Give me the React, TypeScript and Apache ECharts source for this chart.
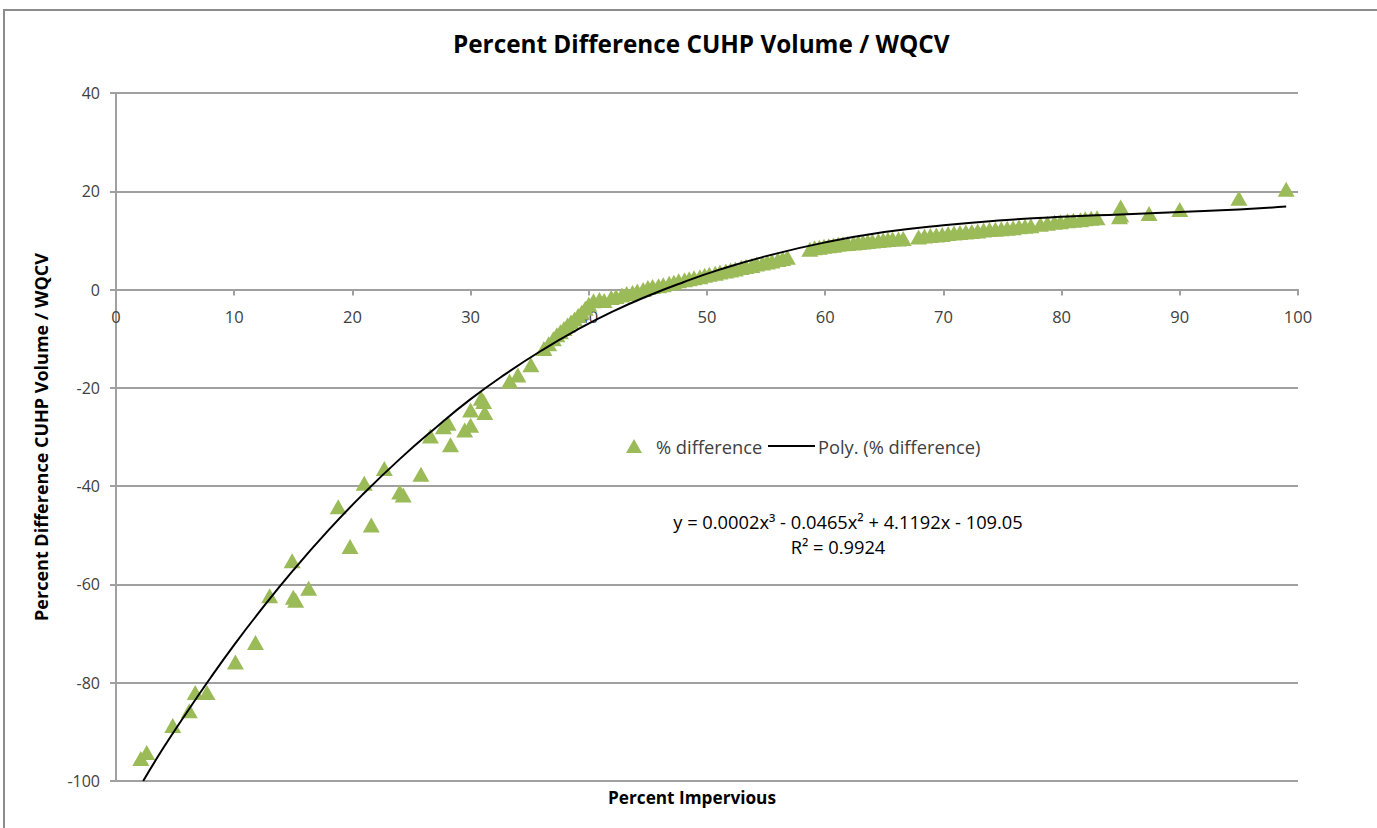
import React, { useEffect, useRef } from "react";
import * as echarts from "echarts";

// Scatter data: Percent Impervious (x) vs % difference (y)
const pctImpervious: number[] = [
  2.1, 2.6, 4.8, 6.2, 6.7, 7.7, 10.1, 11.8, 13.0, 14.9, 15.0, 15.2, 16.3,
  18.8, 19.8, 21.0, 21.6, 22.7, 24.0, 24.3, 25.8, 26.6, 27.7, 28.1, 28.3,
  29.5, 30.0, 30.0, 30.9, 31.1, 31.2, 33.3, 34.0, 35.1,
  36.2, 36.6, 37.0, 37.3, 37.6, 37.9, 38.2, 38.5, 38.8, 39.1, 39.4, 39.7, 40.0,
  40.4, 40.9, 41.3, 41.9, 42.3, 42.8, 43.2, 43.7, 44.1, 44.6, 45.0, 45.4,
  45.9, 46.3, 46.8, 47.2, 47.6, 48.1, 48.5, 48.9, 49.4, 49.8, 50.2, 50.7,
  51.1, 51.6, 52.0, 52.4, 52.9, 53.3, 53.8, 54.2, 54.7, 55.1, 55.5, 56.0,
  56.4, 56.8,
  58.7, 59.1, 59.5, 59.9, 60.3, 60.7, 61.1, 61.5, 61.9, 62.4, 62.8, 63.2,
  63.6, 64.0, 64.5, 64.9, 65.3, 65.7, 66.2, 66.6,
  67.9, 68.4, 68.9, 69.4, 69.9, 70.4, 70.9, 71.4, 71.9, 72.4, 72.9, 73.4,
  73.9, 74.4, 74.9, 75.4, 75.9, 76.4, 76.9, 77.4, 78.2, 78.8, 79.4, 79.9,
  80.5, 81.0, 81.6, 82.0, 82.5, 83.0,
  84.9, 85.0, 85.0, 87.4, 90.0, 95.0, 99.0,
];
const pctDifference: number[] = [
  -95.4, -94.2, -88.7, -85.7, -82.0, -82.0, -75.8, -71.8, -62.3, -55.2, -62.6, -63.2, -60.8,
  -44.2, -52.3, -39.4, -47.9, -36.4, -41.2, -41.8, -37.6, -29.8, -27.9, -27.2, -31.6,
  -28.6, -27.6, -24.5, -22.1, -22.8, -25.0, -18.6, -17.4, -15.3,
  -12.0, -11.0, -10.0, -9.2, -8.6, -7.9, -7.2, -6.6, -6.0, -5.3, -4.6, -3.8, -3.0,
  -2.3, -2.0, -2.2, -1.6, -1.4, -1.1, -0.8, -0.6, -0.3, 0.0, 0.4, 0.6,
  0.8, 1.0, 1.3, 1.5, 1.8, 2.0, 2.2, 2.4, 2.6, 2.9, 3.1, 3.3,
  3.6, 3.8, 4.0, 4.2, 4.5, 4.7, 4.9, 5.2, 5.4, 5.6, 5.8, 6.1,
  6.3, 6.6,
  8.2, 8.5, 8.6, 8.8, 8.9, 9.0, 9.2, 9.3, 9.4, 9.5, 9.6, 9.7,
  9.8, 9.9, 10.0, 10.1, 10.2, 10.3, 10.3, 10.4,
  10.7, 10.9, 11.0, 11.1, 11.2, 11.4, 11.5, 11.6, 11.7, 11.8, 11.9, 12.1,
  12.2, 12.3, 12.4, 12.5, 12.6, 12.8, 12.9, 13.0, 13.3, 13.5, 13.7, 13.8,
  14.0, 14.1, 14.2, 14.4, 14.5, 14.6,
  14.8, 15.2, 16.8, 15.5, 16.3, 18.6, 20.4,
];

// Polynomial trendline, values
const trendX: number[] = [2.3, 4, 6, 8, 10, 12, 15, 18, 21, 24, 27, 30, 33, 36, 39, 42, 45, 48, 51, 55, 60, 65, 70, 75, 80, 85, 90, 95, 99];
const trendY: number[] = [-100, -93.3, -86.0, -79.0, -72.3, -66.0, -57.1, -48.9, -41.4, -34.5, -28.2, -22.3, -17.1, -12.4, -8.2, -4.5, -1.3, 1.5, 4.0, 6.8, 9.6, 11.7, 13.1, 14.1, 14.8, 15.3, 15.8, 16.3, 16.9];

const yTicks = { min: -100, max: 40, interval: 20 };
const xTicks = { min: 0, max: 100, interval: 10 };

const titleText = "Percent Difference CUHP Volume / WQCV";
const xName = "Percent Impervious";
const yName = "Percent Difference CUHP Volume / WQCV";
const seriesName = "% difference";
const trendName = "Poly. (% difference)";
const equationText = "y = 0.0002x³ - 0.0465x² + 4.1192x - 109.05";
const r2Text = "R² = 0.9924";

const FONT = "Open Sans";
const GREEN = "#9BBB59";
const GRID = "#A0A0A0";
const TXT = "#404040";

const GRID_TOP = 93;
const GRID_H = 688;
// distance from the grid bottom up to the y = 0 line
const ZERO_OFFSET = GRID_H * (0 - yTicks.min) / (yTicks.max - yTicks.min);

export default function App() {
  const ref = useRef<HTMLDivElement>(null);
  useEffect(() => {
    if (!ref.current) return;
    const chart = echarts.init(ref.current, undefined, { renderer: "svg" });
    const scatterData = pctImpervious.map((x, i) => [x, pctDifference[i]]);
    const trendData = trendX.map((x, i) => [x, trendY[i]]);
    chart.setOption({
      animation: false,
      backgroundColor: "#ffffff",
      textStyle: { fontFamily: FONT },
      title: {
        text: titleText,
        left: 448,
        top: 26,
        textStyle: { fontFamily: FONT, fontSize: 24.3, fontWeight: "bold", color: "#000" },
      },
      grid: { left: 116, top: GRID_TOP, width: 1182, height: GRID_H, containLabel: false, outerBoundsMode: "none" },
      legend: [
        {
          data: [{ name: seriesName, icon: "triangle" }],
          left: 621,
          top: 432,
          itemWidth: 16,
          itemHeight: 14,
          textStyle: { fontFamily: FONT, fontSize: 18.3, color: TXT, padding: [0, 0, 0, 9] },
        },
        {
          data: [{ name: trendName, icon: "rect" }],
          left: 763,
          top: 432,
          itemWidth: 47,
          itemHeight: 2,
          textStyle: { fontFamily: FONT, fontSize: 18.3, color: TXT, padding: [0, 0, 0, -2] },
        },
      ],
      xAxis: {
        type: "value",
        min: xTicks.min,
        max: xTicks.max,
        interval: xTicks.interval,
        position: "bottom",
        offset: -ZERO_OFFSET,
        axisLine: { onZero: false, lineStyle: { color: GRID, width: 2 } },
        axisTick: { show: true, inside: false, length: 6, lineStyle: { color: GRID, width: 2 } },
        axisLabel: { fontFamily: FONT, fontSize: 16.5, color: TXT, margin: 18 },
        splitLine: { show: false },
      },
      yAxis: {
        type: "value",
        min: yTicks.min,
        max: yTicks.max,
        interval: yTicks.interval,
        name: yName,
        nameLocation: "middle",
        nameGap: 66,
        nameTextStyle: { fontFamily: FONT, fontSize: 18, fontWeight: "bold", color: "#000" },
        axisLine: { show: true, lineStyle: { color: GRID, width: 2 } },
        axisTick: { show: true, inside: false, length: 6, lineStyle: { color: GRID, width: 2 } },
        axisLabel: { fontFamily: FONT, fontSize: 16, color: TXT, margin: 16 },
        splitLine: { show: true, lineStyle: { color: GRID, width: 2 } },
      },
      series: [
        {
          name: seriesName,
          type: "scatter",
          data: scatterData,
          symbol: "triangle",
          symbolSize: [17, 15],
          itemStyle: { color: GREEN, opacity: 1 },
          z: 2,
        },
        {
          name: trendName,
          type: "line",
          data: trendData,
          smooth: true,
          symbol: "none",
          showSymbol: false,
          lineStyle: { color: "#000", width: 2 },
          itemStyle: { color: "#000" },
          z: 3,
        },
      ],
      graphic: [
        {
          type: "rect",
          shape: { x: 4, y: 10, width: 1500, height: 900 },
          style: { fill: "none", stroke: "#8C8C8C", lineWidth: 2 },
          silent: true,
          z: -1,
        },
        {
          type: "text",
          x: 692,
          y: 797,
          style: { text: xName, fontFamily: FONT, fontSize: 17.2, fontWeight: "bold", fill: "#000", align: "center", verticalAlign: "middle" },
        },
        {
          type: "text",
          x: 848,
          y: 521,
          style: { text: equationText, fontFamily: FONT, fontSize: 18.3, fill: "#000", align: "center", verticalAlign: "middle" },
        },
        {
          type: "text",
          x: 838,
          y: 546,
          style: { text: r2Text, fontFamily: FONT, fontSize: 18.3, fill: "#000", align: "center", verticalAlign: "middle" },
        },
      ],
    });
    return () => chart.dispose();
  }, []);
  return (
    <div
      ref={ref}
      style={{ position: "absolute", left: 0, top: 0, width: 1377, height: 828 }}
    />
  );
}
